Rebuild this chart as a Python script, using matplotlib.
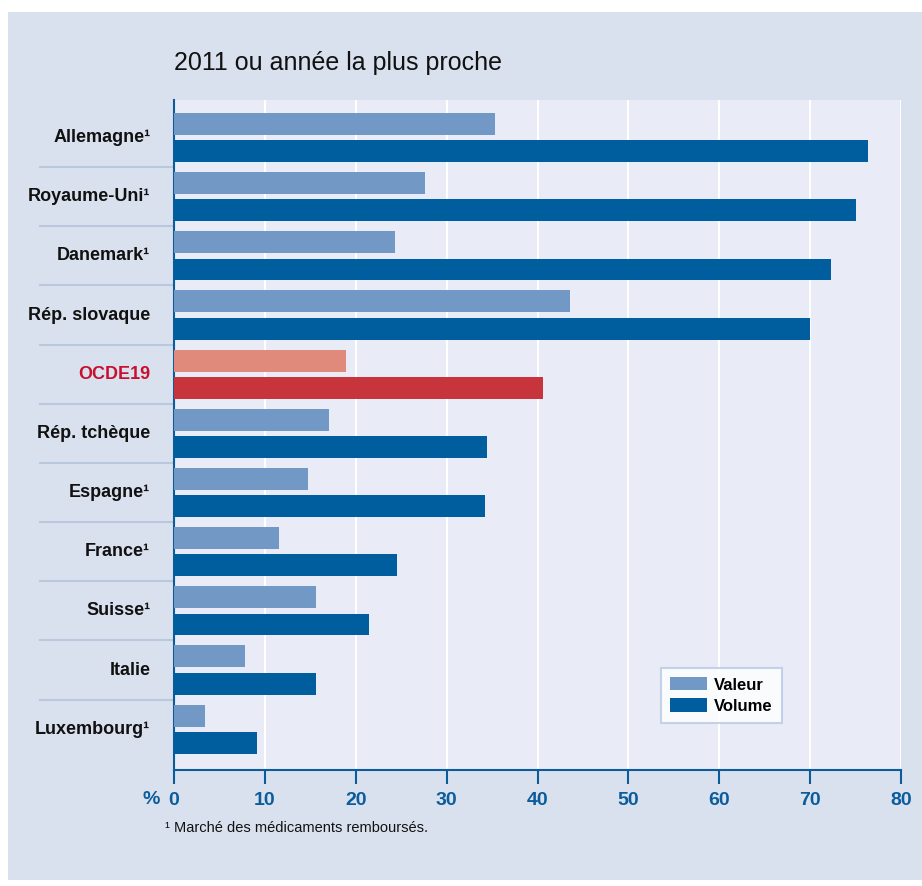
import matplotlib
matplotlib.use("Agg")
import matplotlib.pyplot as plt
from matplotlib.patches import Rectangle, Patch
import numpy as np

plt.rcParams['font.family'] = ['Liberation Sans Narrow', 'Liberation Sans', 'DejaVu Sans']

countries = ["Allemagne¹", "Royaume-Uni¹", "Danemark¹", "Rép. slovaque", "OCDE19",
             "Rép. tchèque", "Espagne¹", "France¹", "Suisse¹", "Italie", "Luxembourg¹"]
valeur = [35.3, 27.6, 24.3, 43.6, 18.9, 17.1, 14.7, 11.6, 15.6, 7.8, 3.4]
volume = [76.4, 75.0, 72.3, 70.0, 40.6, 34.4, 34.2, 24.5, 21.5, 15.6, 9.1]
highlight = "OCDE19"

W, H = 922, 886
fig = plt.figure(figsize=(W / 100, H / 100), dpi=100)
fig.patch.set_facecolor("white")
# fond bleu-gris
fig.patches.append(Rectangle((8 / W, 6 / H), (W - 8) / W, (874 - 6) / H,
                             transform=fig.transFigure, facecolor="#dae1ee",
                             edgecolor="none", zorder=-10))

ax = fig.add_axes([174 / W, 1 - 770 / H, (901 - 174) / W, (770 - 100) / H])
ax.set_facecolor("#e9ecf6")

c_val, c_vol = "#7299c6", "#005d9e"
c_val_h, c_vol_h = "#e08a7c", "#c8343c"
blue = "#0a5c9c"

y = np.arange(len(countries))
h = 0.37
off = 0.23
for i, c in enumerate(countries):
    hl = (c == highlight)
    ax.barh(y[i] - off, valeur[i], height=h, color=c_val_h if hl else c_val, zorder=3)
    ax.barh(y[i] + off, volume[i], height=h, color=c_vol_h if hl else c_vol, zorder=3)

ax.set_xlim(0, 80)
ax.set_ylim(10.69, -0.635)
ax.set_xticks(range(0, 81, 10))
ax.xaxis.grid(True, color="white", linewidth=1.5, zorder=1)
ax.set_axisbelow(True)

for s in ["top", "right"]:
    ax.spines[s].set_visible(False)
ax.spines["bottom"].set_color(blue)
ax.spines["left"].set_color(blue)
ax.spines["bottom"].set_linewidth(1.5)
ax.spines["left"].set_linewidth(1.5)
ax.tick_params(axis="x", colors=blue, length=10, width=1.5, labelsize=14, pad=6)
ax.tick_params(axis="y", length=0)
for lbl in ax.get_xticklabels():
    lbl.set_fontweight("bold")
ax.set_yticks([])
fig.text(160 / W, 1 - 800 / H, "%", ha="right", va="center", color=blue, fontsize=14,
         fontweight="bold")

# libellés des pays et séparateurs
for i, c in enumerate(countries):
    ax.text(-2.6, y[i], c, ha="right", va="center", fontsize=13, fontweight="bold",
            color="#c8102e" if c == highlight else "#111111", clip_on=False)
for i in range(len(countries) - 1):
    ax.plot([-14.8, 0], [i + 0.5, i + 0.5], color="#b9c8de", linewidth=1.5,
            clip_on=False, zorder=2)

fig.text(174 / W, 1 - 63 / H, "2011 ou année la plus proche", ha="left", va="center",
         fontsize=18, color="#111111")
fig.text(165 / W, 1 - 828 / H, "¹ Marché des médicaments remboursés.", ha="left",
         va="center", fontsize=10.5, color="#111111")

handles = [Patch(facecolor=c_val, label="Valeur"), Patch(facecolor=c_vol, label="Volume")]
leg = ax.legend(handles=handles, loc="upper left",
                bbox_to_anchor=((661 - 174) / 727, (770 - 668) / 670),
                frameon=True, fancybox=False, fontsize=12, handlelength=2.2, handleheight=0.85,
                borderpad=0.55, labelspacing=0.35, handletextpad=0.45, borderaxespad=0)
leg.get_frame().set_edgecolor("#b9c8e6")
leg.get_frame().set_linewidth(1.5)
for t in leg.get_texts():
    t.set_fontweight("bold")

fig.savefig("out.png", dpi=100)
